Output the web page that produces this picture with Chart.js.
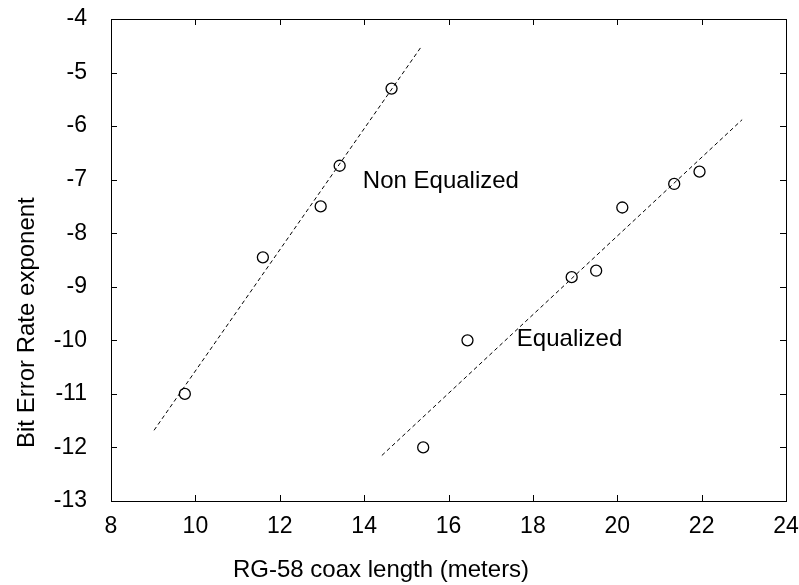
<!DOCTYPE html>
<html>
<head>
<meta charset="utf-8">
<script src="https://cdn.jsdelivr.net/npm/chart.js@4.4.0/dist/chart.umd.min.js"></script>
<style>
    html, body { margin: 0; padding: 0; background: #fff; }
    #wrap { width: 799px; height: 585px; }
</style>
</head>
<body>
<div id="wrap"><canvas id="c" width="799" height="585"></canvas></div>
<script>
// data
const nonEqX = [9.75, 11.6, 12.97, 13.42, 14.65];
const nonEqY = [-11.0, -8.45, -7.5, -6.74, -5.3];
const eqX = [15.4, 16.45, 18.92, 19.5, 20.12, 21.35, 21.95];
const eqY = [-12.0, -10.0, -8.82, -8.7, -7.52, -7.08, -6.85];
// dashed fit lines (end points)
const nonEqFitX = [9.02, 15.37];
const nonEqFitY = [-11.68, -4.5];
const eqFitX = [14.42, 22.96];
const eqFitY = [-12.15, -5.88];
const xTicks = [8, 10, 12, 14, 16, 18, 20, 22, 24];
const yTicks = [-4, -5, -6, -7, -8, -9, -10, -11, -12, -13];
const labels = [
    { text: 'Non Equalized', x: 13.97, y: -7.04 },
    { text: 'Equalized', x: 17.62, y: -9.99 }
];
const xTitle = 'RG-58 coax length (meters)';
const yTitle = 'Bit Error Rate exponent';

const FONT = '"Liberation Sans", Arial, sans-serif';
const toPts = (xs, ys) => xs.map((x, i) => ({ x: x, y: ys[i] }));

// box frame + inward ticks + text labels + axis titles
const framePlugin = {
    id: 'frame',
    afterDraw(chart) {
        const { ctx, chartArea: a, scales } = chart;
        ctx.save();
        ctx.strokeStyle = '#000';
        ctx.lineWidth = 1;
        ctx.strokeRect(a.left + 0.5, a.top + 0.5, a.right - a.left, a.bottom - a.top);
        ctx.beginPath();
        xTicks.forEach(v => {
            const px = Math.round(scales.x.getPixelForValue(v)) + 0.5;
            ctx.moveTo(px, a.bottom); ctx.lineTo(px, a.bottom - 6);
            ctx.moveTo(px, a.top); ctx.lineTo(px, a.top + 6);
        });
        yTicks.forEach(v => {
            const py = Math.round(scales.y.getPixelForValue(v)) + 0.5;
            ctx.moveTo(a.left, py); ctx.lineTo(a.left + 6, py);
            ctx.moveTo(a.right, py); ctx.lineTo(a.right - 6, py);
        });
        ctx.stroke();
        ctx.fillStyle = '#000';
        ctx.font = '24px ' + FONT;
        ctx.textBaseline = 'middle';
        ctx.textAlign = 'left';
        labels.forEach(l => {
            ctx.fillText(l.text, scales.x.getPixelForValue(l.x), scales.y.getPixelForValue(l.y));
        });
        // axis titles (not centred on the plot in the original)
        ctx.textAlign = 'left';
        ctx.textBaseline = 'alphabetic';
        ctx.fillText(xTitle, 233, 577);
        ctx.translate(34, 448);
        ctx.rotate(-Math.PI / 2);
        ctx.fillText(yTitle, 0, 0);
        ctx.restore();
    }
};

const fitStyle = {
    type: 'line', showLine: true, pointRadius: 0, borderColor: '#000',
    borderWidth: 1, borderDash: [4, 3], fill: false
};
const ptStyle = {
    type: 'scatter', pointRadius: 5.5, pointBorderWidth: 1.3,
    pointBorderColor: '#000', pointBackgroundColor: 'rgba(0,0,0,0)'
};

new Chart(document.getElementById('c'), {
    data: {
        datasets: [
            { ...fitStyle, data: toPts(nonEqFitX, nonEqFitY) },
            { ...fitStyle, data: toPts(eqFitX, eqFitY) },
            { ...ptStyle, data: toPts(nonEqX, nonEqY) },
            { ...ptStyle, data: toPts(eqX, eqY) }
        ]
    },
    options: {
        responsive: false, animation: false,
        layout: { padding: { top: 19, right: 13, left: 13, bottom: 6 } },
        plugins: { legend: { display: false }, tooltip: { enabled: false } },
        scales: {
            x: {
                type: 'linear', min: 8, max: 24,
                afterBuildTicks: s => { s.ticks = xTicks.map(v => ({ value: v })); },
                afterFit: s => { s.height = 78; s.paddingLeft = 0; s.paddingRight = 0; },
                grid: { display: false, drawTicks: false },
                border: { display: false },
                ticks: { color: '#000', padding: 12, font: { size: 23, family: FONT } }
            },
            y: {
                type: 'linear', min: -13, max: -4,
                afterBuildTicks: s => { s.ticks = yTicks.map(v => ({ value: v })); },
                afterFit: s => { s.width = 98; s.paddingTop = 0; s.paddingBottom = 0; },
                grid: { display: false, drawTicks: false },
                border: { display: false },
                ticks: { color: '#000', padding: 24, font: { size: 23, family: FONT } }
            }
        }
    },
    plugins: [framePlugin]
});
</script>
</body>
</html>
